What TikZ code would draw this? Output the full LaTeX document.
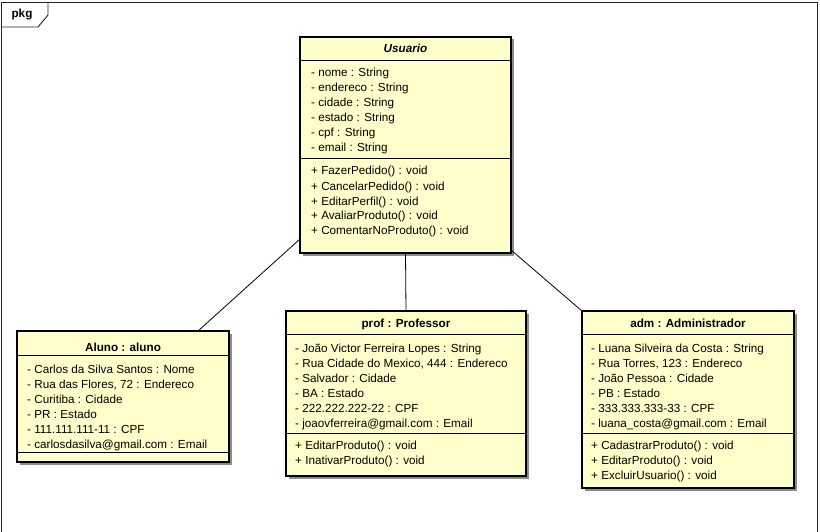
\documentclass[tikz,border=0pt]{standalone}
\usepackage{fontspec}
\setmainfont{Liberation Sans}
\usetikzlibrary{shadows,calc}
\definecolor{classfill}{RGB}{255,255,204}
\newcommand\classlines[4]{\foreach \t [count=\i] in {#4} {\node[txt] (#3\i) at (#1,{#2+15*(\i-1)}) {\t};}}
\begin{document}
\begin{tikzpicture}[x=1pt,y=-1pt,
  box/.style={draw=black, line width=1.6pt, fill=classfill,
    drop shadow={shadow xshift=2.5pt, shadow yshift=-2.5pt, fill=black!45, opacity=1},
    inner sep=0pt, outer sep=0pt, anchor=north west},
  txt/.style={inner sep=0pt, anchor=base west, font=\fontsize{11.7}{14}\selectfont},
  head/.style={inner sep=0pt, anchor=base, font=\fontsize{11.7}{14}\selectfont\bfseries},
  sep/.style={line width=0.8pt},
  conn/.style={line width=0.8pt}]
\useasboundingbox (0,0) rectangle (820,532);
% frame
\draw[line width=0.9pt, black!85] (1.5,545) -- (1.5,2) -- (817.5,2) -- (817.5,545);
\draw[line width=0.9pt, black!85] (48,2) -- (48,15) -- (38,27) -- (1.5,27);
\node[head, anchor=center] (pkg) at (22,15) {pkg};

% Usuario
\node[box, minimum width=211pt, minimum height=216pt] (usuario) at (300,37) {};
\node[head] (usuarioT) at (405.5,53) {\textit{Usuario}};
\draw[sep] (usuario.west |- 0,60) -- (usuario.east |- 0,60);
\draw[sep] (usuario.west |- 0,158) -- (usuario.east |- 0,158);
\classlines{311}{77}{ua}{- nome : String, - endereco : String, - cidade : String, - estado : String, - cpf : String, - email : String}
\classlines{311}{175}{um}{+ FazerPedido() : void, + CancelarPedido() : void, + EditarPerfil() : void, + AvaliarProduto() : void, + ComentarNoProduto() : void}

% Aluno
\node[box, minimum width=212pt, minimum height=131pt] (aluno) at (17,331) {};
\node[head] (alunoT) at (123,351) {Aluno : aluno};
\draw[sep] (aluno.west |- 0,355) -- (aluno.east |- 0,355);
\draw[sep] (aluno.west |- 0,452) -- (aluno.east |- 0,452);
\classlines{27}{373}{aa}{- Carlos da Silva Santos : Nome, {- Rua das Flores, 72 : Endereco}, - Curitiba : Cidade, - PR : Estado, - 111.111.111-11 : CPF, - carlosdasilva@gmail.com : Email}

% Professor
\node[box, minimum width=240pt, minimum height=165pt] (prof) at (286,311) {};
\node[head] (profT) at (406,327) {prof : Professor};
\draw[sep] (prof.west |- 0,334) -- (prof.east |- 0,334);
\draw[sep] (prof.west |- 0,433) -- (prof.east |- 0,433);
\classlines{295}{352}{pa}{- João Victor Ferreira Lopes : String, {- Rua Cidade do Mexico, 444 : Endereco}, - Salvador : Cidade, - BA : Estado, - 222.222.222-22 : CPF, - joaovferreira@gmail.com : Email}
\classlines{295}{449}{pm}{+ EditarProduto() : void, + InativarProduto() : void}

% Administrador
\node[box, minimum width=212pt, minimum height=177pt] (adm) at (582,311) {};
\node[head] (admT) at (688,327) {adm : Administrador};
\draw[sep] (adm.west |- 0,334) -- (adm.east |- 0,334);
\draw[sep] (adm.west |- 0,433) -- (adm.east |- 0,433);
\classlines{591}{352}{da}{- Luana Silveira da Costa : String, {- Rua Torres, 123 : Endereco}, - João Pessoa : Cidade, - PB : Estado, - 333.333.333-33 : CPF, - luana\_costa@gmail.com : Email}
\classlines{591}{449}{dm}{+ CadastrarProduto() : void, + EditarProduto() : void, + ExcluirUsuario() : void}

% connectors
\draw[conn] ($(usuario.south west)+(0,-14)$) -- ($(aluno.north west)+(181,0)$);
\draw[conn] (usuario.south) -- (prof.north);
\draw[conn] ($(usuario.south east)+(0,-3)$) -- (adm.north west);
\end{tikzpicture}
\end{document}
